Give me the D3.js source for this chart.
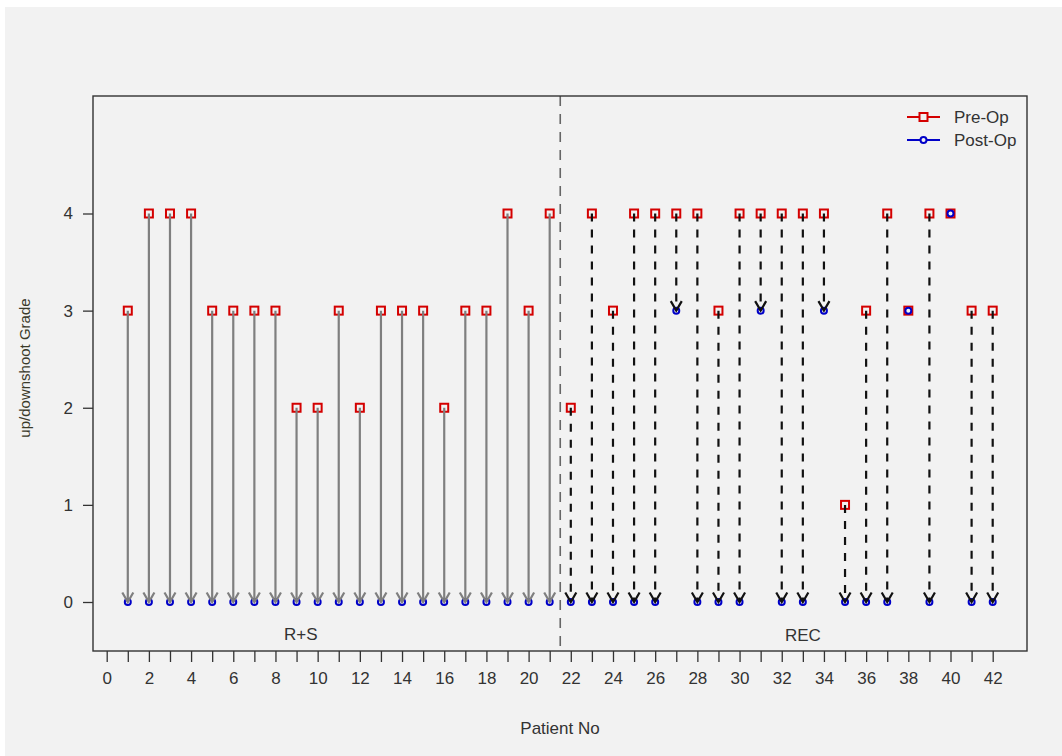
<!DOCTYPE html>
<html>
<head>
<meta charset="utf-8">
<script src="https://cdn.jsdelivr.net/npm/d3@7/dist/d3.min.js"></script>
<style>
  body { margin: 0; background: #fff; }
  text { font-family: "Liberation Sans", Arial, sans-serif; }
</style>
</head>
<body>
<svg id="chart" width="1062" height="756"></svg>
<script>
// ---- data ----
const patients = d3.range(1, 43);
const preOp  = [3,4,4,4,3,3,3,3,2,2,3,2,3,3,3,2,3,3,4,3,4,
                2,4,3,4,4,4,4,3,4,4,4,4,4,1,3,4,3,4,4,3,3];
const postOp = [0,0,0,0,0,0,0,0,0,0,0,0,0,0,0,0,0,0,0,0,0,
                0,0,0,0,0,3,0,0,0,3,0,0,3,0,0,0,3,0,4,0,0];
const groupOf = patients.map(p => p <= 21 ? "R+S" : "REC");
const xTicks = d3.range(0, 43);
const xTickLabels = d3.range(0, 43, 2);
const yTicks = [0, 1, 2, 3, 4];
const separatorAt = 21.5;
const groupLabels = [{name: "R+S", x: 9.2, y: -0.33}, {name: "REC", x: 33, y: -0.34}];
const legendItems = [{name: "Pre-Op", color: "#d40000", shape: "square"},
                     {name: "Post-Op", color: "#0000c8", shape: "circle"}];

// ---- layout ----
const svg = d3.select("#chart");
const box = {left: 93, right: 1027, top: 96, bottom: 651};
const x = d3.scaleLinear().domain([0, 42]).range([106.7, 992.7]);
const y = d3.scaleLinear().domain([0, 4]).range([602, 213.5]);

svg.append("rect").attr("x", 5).attr("y", 7).attr("width", 1057).attr("height", 749)
  .attr("fill", "#f2f2f2");

// separator
svg.append("line")
  .attr("x1", x(separatorAt)).attr("x2", x(separatorAt))
  .attr("y1", box.top).attr("y2", box.bottom)
  .attr("stroke", "#666").attr("stroke-width", 1.6).attr("stroke-dasharray", "10,8");

// box
svg.append("rect").attr("x", box.left).attr("y", box.top)
  .attr("width", box.right - box.left).attr("height", box.bottom - box.top)
  .attr("fill", "none").attr("stroke", "#333").attr("stroke-width", 1.4);

// x axis
const xAxis = d3.axisBottom(x).tickValues(xTicks).tickSize(11).tickPadding(10)
  .tickFormat(d => xTickLabels.includes(d) ? d : "");
const gx = svg.append("g").attr("transform", `translate(0,${box.bottom})`).call(xAxis);
gx.select(".domain").remove();
gx.selectAll(".tick line").attr("stroke", "#333").attr("stroke-width", 1.3);
gx.selectAll(".tick text").attr("font-size", 17).attr("fill", "#333")
  .style("font-family", "'Liberation Sans', Arial, sans-serif");

// y axis
const yAxis = d3.axisLeft(y).tickValues(yTicks).tickSize(10).tickPadding(10).tickFormat(d3.format("d"));
const gy = svg.append("g").attr("transform", `translate(${box.left},0)`).call(yAxis);
gy.select(".domain").remove();
gy.selectAll(".tick line").attr("stroke", "#333").attr("stroke-width", 1.3);
gy.selectAll(".tick text").attr("font-size", 17).attr("fill", "#333")
  .style("font-family", "'Liberation Sans', Arial, sans-serif");

// axis titles
svg.append("text").attr("x", 560).attr("y", 734).attr("text-anchor", "middle")
  .attr("font-size", 17).attr("fill", "#333").text("Patient No");
svg.append("text").attr("transform", "translate(30,368) rotate(-90)")
  .attr("text-anchor", "middle").attr("font-size", 15).attr("fill", "#3a3a2a")
  .text("up/downshoot Grade");

// group labels
svg.selectAll(".glab").data(groupLabels).enter().append("text")
  .attr("x", d => x(d.x)).attr("y", d => y(d.y) + 6).attr("text-anchor", "middle")
  .attr("font-size", 17).attr("fill", "#333").text(d => d.name);

const data = patients.map((p, i) => ({p, pre: preOp[i], post: postOp[i], g: groupOf[i]}));

// markers
svg.selectAll(".pre").data(data).enter().append("rect")
  .attr("x", d => x(d.p) - 4).attr("y", d => y(d.pre) - 4)
  .attr("width", 8).attr("height", 8)
  .attr("fill", "none").attr("stroke", legendItems[0].color).attr("stroke-width", 2);
svg.selectAll(".post").data(data).enter().append("circle")
  .attr("cx", d => x(d.p)).attr("cy", d => y(d.post)).attr("r", 3)
  .attr("fill", "none").attr("stroke", legendItems[1].color).attr("stroke-width", 2);

// arrows
const arrowData = data.filter(d => d.pre !== d.post);
const headLen = 11, headAng = Math.PI / 6;
const ag = svg.selectAll(".arr").data(arrowData).enter().append("g");
ag.append("line")
  .attr("x1", d => x(d.p)).attr("x2", d => x(d.p))
  .attr("y1", d => y(d.pre)).attr("y2", d => y(d.post))
  .attr("stroke", d => d.g === "R+S" ? "#7f7f7f" : "#111")
  .attr("stroke-width", 2.2)
  .attr("stroke-dasharray", d => d.g === "R+S" ? null : "8,8");
ag.append("path")
  .attr("d", d => {
    const px = x(d.p), py = y(d.post);
    const dx = headLen * Math.sin(headAng), dy = headLen * Math.cos(headAng);
    return `M${px - dx},${py - dy}L${px},${py}L${px + dx},${py - dy}`;
  })
  .attr("fill", "none")
  .attr("stroke", d => d.g === "R+S" ? "#7f7f7f" : "#111")
  .attr("stroke-width", 2.2);

// legend
const lg = svg.selectAll(".leg").data(legendItems).enter().append("g")
  .attr("transform", (d, i) => `translate(907,${117 + i * 23})`);
lg.append("line").attr("x1", 0).attr("x2", 33).attr("y1", 0).attr("y2", 0)
  .attr("stroke", d => d.color).attr("stroke-width", 2);
lg.filter(d => d.shape === "square").append("rect")
  .attr("x", 12.5).attr("y", -4).attr("width", 8).attr("height", 8)
  .attr("fill", "#f2f2f2").attr("stroke", d => d.color).attr("stroke-width", 2);
lg.filter(d => d.shape === "circle").append("circle")
  .attr("cx", 16.5).attr("cy", 0).attr("r", 3)
  .attr("fill", "#f2f2f2").attr("stroke", d => d.color).attr("stroke-width", 2);
lg.append("text").attr("x", 47).attr("y", 6).attr("font-size", 17).attr("fill", "#333")
  .text(d => d.name);
</script>
</body>
</html>
